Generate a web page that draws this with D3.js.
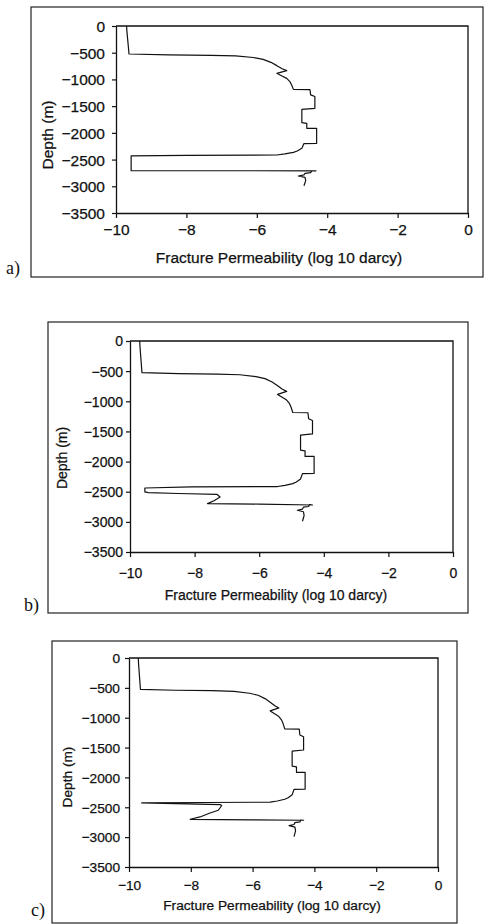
<!DOCTYPE html>
<meta charset="utf-8">
<body style="margin:0;background:#fff;">
<svg width="484" height="924"></svg>
</body>
<script src="https://cdn.jsdelivr.net/npm/d3@7"></script>
<script>
    // shared axis ticks
    let xTicks = [-10, -8, -6, -4, -2, 0];
    let yTicks = [0, -500, -1000, -1500, -2000, -2500, -3000, -3500];

    // upper part of the profile, same in all three runs
    let topDepth = [0, -100, -524, -540, -548, -560, -590, -624, -680, -742, -800, -836, -886, -930, -980, -1040, -1104, -1186,
        -1190, -1290, -1320, -1541, -1560, -1810, -1822, -1915, -1915, -2196, -2200, -2290, -2340, -2365, -2395, -2414];
    let topPerm = [-9.70, -9.69, -9.63, -8.5, -7.3, -6.6, -6.1, -5.82, -5.6, -5.43, -5.28, -5.15, -5.43, -5.3, -5.15, -5.06, -5.01, -4.96,
        -4.49, -4.47, -4.35, -4.35, -4.72, -4.72, -4.58, -4.58, -4.30, -4.30, -4.66, -4.72, -4.85, -4.96, -5.2, -5.43];

    // little wiggle at the bottom, same in all three runs
    let tailDepth = [-2714, -2745, -2757, -2788, -2807, -2832, -2894, -2990];
    let tailPerm = [-4.44, -4.47, -4.63, -4.66, -4.82, -4.63, -4.61, -4.66];

    // the part that differs between runs a, b, c
    let midDepthA = [-2422, -2430, -2708, -2710];
    let midPermA = [-8.0, -9.57, -9.57, -4.32];
    let midDepthB = [-2421, -2438, -2504, -2515, -2530, -2543, -2587, -2650, -2697, -2705, -2720];
    let midPermB = [-8.1, -9.54, -9.54, -9.43, -8.5, -7.31, -7.21, -7.4, -7.6, -6.0, -4.35];
    let midDepthC = [-2420, -2427, -2440, -2454, -2470, -2550, -2600, -2662, -2701, -2710, -2717];
    let midPermC = [-7.5, -9.59, -8.5, -7.05, -7.0, -7.11, -7.4, -7.70, -8.02, -6.0, -4.35];

    let svg = d3.select("svg");
    let font = '"Liberation Sans", Arial, sans-serif';

    let drawPanel = (p, midDepth, midPerm) => {
        let depth = topDepth.concat(midDepth, tailDepth);
        let perm = topPerm.concat(midPerm, tailPerm);
        let pts = depth.map((d, i) => [perm[i], d]);

        // outer frame of the figure part
        svg.append("rect")
            .attr("x", p.box[0]).attr("y", p.box[1])
            .attr("width", p.box[2] - p.box[0]).attr("height", p.box[3] - p.box[1])
            .attr("fill", "none").attr("stroke", "#222").attr("stroke-width", 1.2);

        svg.append("text")
            .attr("x", p.tag[0]).attr("y", p.tag[1])
            .attr("font-family", '"Liberation Serif", "Times New Roman", serif')
            .attr("font-size", 18).attr("fill", "#111")
            .text(p.name);

        let x = d3.scaleLinear().domain([-10, 0]).range([p.plot[0], p.plot[2]]);
        let y = d3.scaleLinear().domain([0, -3500]).range([p.plot[1], p.plot[3]]);
        let g = svg.append("g");

        // top and right edges of the plot area
        g.append("path")
            .attr("d", `M${x(-10)},${y(0)}H${x(0)}V${y(-3500)}`)
            .attr("fill", "none").attr("stroke", "#111").attr("stroke-width", 1.3);

        let ax = g.append("g")
            .attr("transform", `translate(0,${y(-3500)})`)
            .call(d3.axisBottom(x).tickValues(xTicks).tickFormat(d3.format("d")).tickSize(5).tickSizeOuter(0));
        ax.selectAll("text").attr("y", p.xLab).attr("dy", "0.35em");

        let ay = g.append("g")
            .attr("transform", `translate(${x(-10)},0)`)
            .call(d3.axisLeft(y).tickValues(yTicks).tickFormat(d3.format("d")).tickSize(4).tickSizeOuter(0));
        ay.selectAll("text").attr("x", -p.yLab).attr("dy", "0.35em");

        g.selectAll(".domain").attr("stroke", "#111").attr("stroke-width", 1.3);
        g.selectAll(".tick line").attr("stroke", "#111").attr("stroke-width", 1.2);
        g.selectAll(".tick text")
            .attr("font-family", font).attr("font-size", p.fs).attr("fill", "#111")
            .attr("stroke", "#111").attr("stroke-width", 0.25);

        g.append("text")
            .attr("x", p.title[0]).attr("y", p.title[1]).attr("dy", "0.35em")
            .attr("text-anchor", "middle")
            .attr("font-family", font).attr("font-size", p.fs).attr("fill", "#111")
            .attr("stroke", "#111").attr("stroke-width", 0.25)
            .text("Fracture Permeability (log 10 darcy)");

        g.append("text")
            .attr("transform", `translate(${p.ylabel[0]},${p.ylabel[1]}) rotate(-90)`)
            .attr("dy", "0.35em")
            .attr("text-anchor", "middle")
            .attr("font-family", font).attr("font-size", p.fs).attr("fill", "#111")
            .attr("stroke", "#111").attr("stroke-width", 0.25)
            .text("Depth (m)");

        let line = d3.line().x(d => x(d[0])).y(d => y(d[1]));
        g.append("path")
            .datum(pts)
            .attr("d", line)
            .attr("fill", "none").attr("stroke", "#111").attr("stroke-width", 1.2)
            .attr("stroke-linejoin", "round");
    }

    drawPanel({
        name: "a)", tag: [6, 274], box: [31, 7, 483, 277], plot: [116, 26, 468, 213],
        fs: 15.5, xLab: 17, yLab: 11, title: [279, 258], ylabel: [48, 135]
    }, midDepthA, midPermA);

    drawPanel({
        name: "b)", tag: [24, 611], box: [48, 322, 468, 613], plot: [130, 341, 453, 552],
        fs: 14, xLab: 21, yLab: 7, title: [276, 595], ylabel: [62, 458]
    }, midDepthB, midPermB);

    drawPanel({
        name: "c)", tag: [31, 916], box: [52, 641, 457, 923], plot: [129, 658, 438, 867],
        fs: 13.7, xLab: 18, yLab: 9, title: [272, 905], ylabel: [67, 777]
    }, midDepthC, midPermC);
</script>
